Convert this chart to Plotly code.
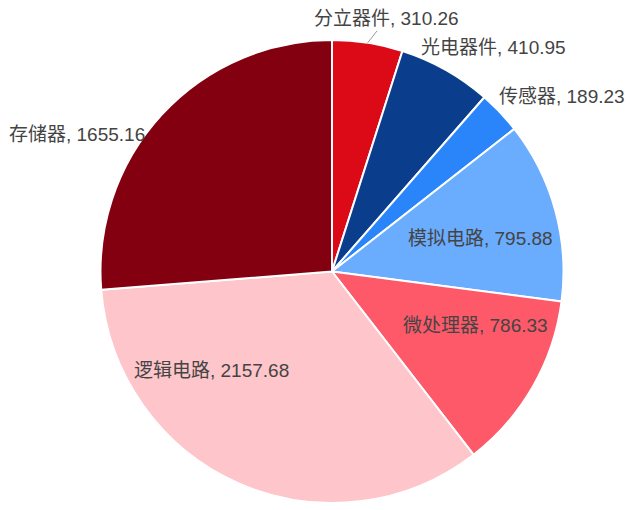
import math
import plotly.graph_objects as go

# 数据
labels = ["分立器件", "光电器件", "传感器", "模拟电路", "微处理器", "逻辑电路", "存储器"]
values = [310.26, 410.95, 189.23, 795.88, 786.33, 2157.68, 1655.16]
colors = ["#dc0a17", "#0a3d8c", "#2a84fa", "#6aacfd", "#fd5968", "#fec5ca", "#830010"]

# 画布与边距
W, H = 640, 510
ml, mr, mt, mb = 22, 14, 32, 15
pw, ph = W - ml - mr, H - mt - mb
R = min(pw, ph) / 2
cx, cy = ml + pw / 2, mt + ph / 2

# 标签摆放: (半径比例, 像素偏移 dx, dy, 是否引线)
place = {
    "分立器件": (1.0, 19, -24, True),
    "光电器件": (1.0, 48, -22, False),
    "传感器": (1.0, 62, -16, False),
    "模拟电路": (0.66, 1, 7, False),
    "微处理器": (0.66, 11, -22, False),
    "逻辑电路": (0.66, -59, -41, False),
    "存储器": (1.0, -85, 20, False),
}

fig = go.Figure(go.Pie(
    labels=labels,
    values=values,
    sort=False,
    direction="clockwise",
    rotation=0,
    marker=dict(colors=colors, line=dict(color="white", width=2)),
    textinfo="none",
    hoverinfo="label+value",
    showlegend=False,
))

font = dict(family="Liberation Sans, Noto Sans CJK SC", size=19, color="#444444")
total = sum(values)
cum = 0
annotations = []
for lab, val in zip(labels, values):
    mid = (cum + val / 2) / total * 2 * math.pi
    cum += val
    f, dx, dy, line = place[lab]
    px = cx + f * R * math.sin(mid)
    py = cy - f * R * math.cos(mid)
    text = f"{lab}, {val:.2f}"
    if line:
        annotations.append(dict(
            x=(px - ml) / pw, y=(H - mb - py) / ph, xref="paper", yref="paper",
            text=text, showarrow=True, ax=dx, ay=dy, arrowhead=0,
            arrowwidth=1, arrowcolor="#9a9a9a", font=font,
        ))
    else:
        annotations.append(dict(
            x=(px + dx - ml) / pw, y=(H - mb - py - dy) / ph, xref="paper", yref="paper",
            text=text, showarrow=False, xanchor="center", yanchor="middle", font=font,
        ))

fig.update_layout(
    width=W,
    height=H,
    margin=dict(t=mt, b=mb, l=ml, r=mr),
    font=font,
    paper_bgcolor="white",
    annotations=annotations,
)

fig.write_html("out.html")
